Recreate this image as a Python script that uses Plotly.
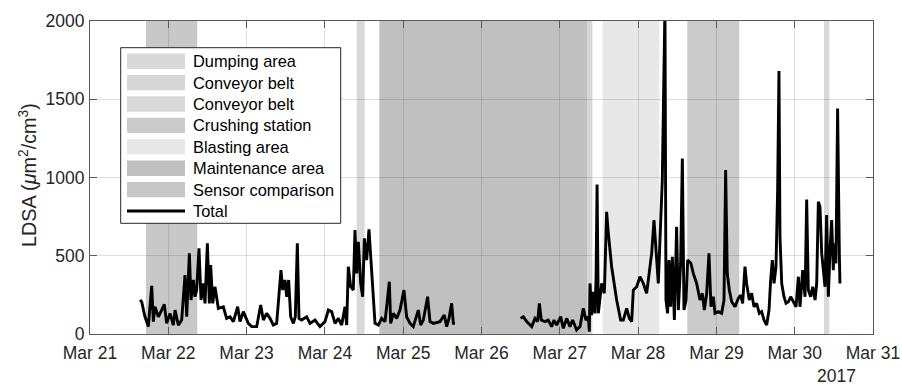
import pandas as pd
import plotly.graph_objects as go

BASE = pd.Timestamp("2017-03-21")

# time offsets (days after 2017-03-21 00:00) and LDSA values (um^2/cm^3)
days_a = [0.639, 0.660, 0.702, 0.745, 0.788, 0.809, 0.830, 0.873, 0.915, 0.949, 0.979, 1.022, 1.064, 1.086,
          1.128, 1.171, 1.213, 1.235, 1.269, 1.290, 1.320, 1.341, 1.362, 1.392, 1.418, 1.447, 1.469, 1.499,
          1.524, 1.541, 1.567, 1.596, 1.639, 1.703, 1.745, 1.788, 1.831, 1.886, 1.916, 1.958, 2.022, 2.065,
          2.129, 2.180, 2.214, 2.256, 2.299, 2.341, 2.384, 2.439, 2.461, 2.490, 2.512, 2.537, 2.563, 2.597,
          2.622, 2.648, 2.669, 2.703, 2.767, 2.810, 2.874, 2.937, 3.001, 3.044, 3.086, 3.129, 3.172, 3.214,
          3.257, 3.278, 3.299, 3.329, 3.363, 3.384, 3.406, 3.427, 3.457, 3.482, 3.504, 3.533, 3.563, 3.589,
          3.619, 3.640, 3.682, 3.725, 3.768, 3.823, 3.840, 3.874, 3.917, 3.959, 4.010, 4.044, 4.087, 4.129,
          4.193, 4.223, 4.257, 4.312, 4.342, 4.385, 4.470, 4.525, 4.555, 4.585, 4.619, 4.640, 4.662]
vals_a = [217, 206, 110, 47, 308, 79, 174, 110, 153, 189, 68, 132, 57, 153,
          57, 89, 377, 110, 515, 217, 345, 238, 281, 547, 217, 323, 196, 579,
          196, 440, 196, 302, 164, 174, 100, 110, 79, 174, 79, 143, 68, 47,
          47, 185, 89, 132, 100, 57, 68, 408, 281, 345, 238, 345, 110, 68,
          110, 579, 100, 89, 110, 68, 89, 47, 79, 153, 143, 68, 100, 57,
          174, 57, 430, 302, 281, 664, 387, 589, 323, 238, 611, 472, 668, 472,
          217, 68, 57, 100, 79, 334, 68, 132, 100, 153, 281, 110, 68, 47,
          153, 57, 89, 238, 79, 68, 79, 121, 47, 100, 196, 68, 68]

days_b = [5.500, 5.534, 5.577, 5.641, 5.683, 5.717, 5.739, 5.764, 5.811, 5.853, 5.896, 5.926, 5.960, 6.011,
          6.045, 6.088, 6.130, 6.164, 6.215, 6.258, 6.300, 6.334, 6.364, 6.377, 6.386, 6.407, 6.429, 6.450,
          6.463, 6.476, 6.492, 6.535, 6.569, 6.598, 6.620, 6.662, 6.726, 6.777, 6.811, 6.854, 6.888, 6.918,
          6.939, 6.982, 7.024, 7.067, 7.109, 7.139, 7.173, 7.203, 7.237, 7.258, 7.309, 7.343, 7.356, 7.377,
          7.394, 7.416, 7.437, 7.463, 7.492, 7.514, 7.543, 7.565, 7.586, 7.612, 7.633, 7.675, 7.705, 7.748,
          7.790, 7.820, 7.846, 7.876, 7.905, 7.931, 7.961, 7.982, 8.025, 8.067, 8.097, 8.118, 8.139, 8.165,
          8.195, 8.238, 8.280, 8.310, 8.335, 8.365, 8.386, 8.420, 8.450, 8.480, 8.514, 8.548, 8.578, 8.608,
          8.642, 8.672, 8.693, 8.714, 8.736, 8.761, 8.782, 8.799, 8.812, 8.834, 8.863, 8.889, 8.919, 8.949,
          8.983, 9.017, 9.047, 9.068, 9.102, 9.132, 9.153, 9.174, 9.204, 9.230, 9.260, 9.281, 9.302, 9.323,
          9.345, 9.366, 9.387, 9.408, 9.430, 9.451, 9.472, 9.493, 9.506, 9.527, 9.548, 9.570, 9.578]
vals_b = [100, 111, 79, 47, 100, 79, 196, 89, 79, 89, 47, 89, 57, 111,
          36, 100, 47, 89, 26, 47, 164, 89, 111, 15, 323, 121, 270, 132,
          366, 955, 132, 323, 260, 781, 643, 430, 217, 89, 89, 164, 100, 79,
          281, 302, 366, 323, 260, 366, 515, 728, 430, 323, 983, 2100, 217, 132,
          472, 174, 494, 89, 685, 153, 451, 1121, 153, 217, 472, 451, 387, 323,
          217, 260, 153, 260, 515, 174, 238, 132, 143, 132, 217, 1047, 387, 281,
          206, 174, 228, 249, 196, 430, 323, 217, 260, 174, 196, 132, 143, 89,
          57, 153, 345, 472, 323, 430, 919, 1681, 621, 323, 238, 196, 206, 238,
          206, 174, 366, 174, 408, 238, 860, 281, 238, 302, 217, 323, 845, 813,
          515, 408, 302, 760, 238, 536, 728, 408, 579, 451, 1440, 515, 323]

# shaded activity periods (day offsets) and their legend names / greys
area_names = ["Dumping area", "Conveyor belt", "Conveyor belt", "Crushing station",
              "Blasting area", "Maintenance area", "Sensor comparison"]
area_start = [3.406, 6.350, 9.374, 7.628, 6.548, 3.695, 0.715]
area_end = [3.508, 6.416, 9.442, 8.292, 7.271, 6.350, 1.370]
area_color = ["#d9d9d9", "#d6d6d6", "#d9d9d9", "#cbcbcb", "#e8e8e8", "#c0c0c0", "#c8c8c8"]

tick_days = list(range(0, 11))
tick_text = ["Mar 21", "Mar 22", "Mar 23", "Mar 24", "Mar 25", "Mar 26",
             "Mar 27", "Mar 28", "Mar 29", "Mar 30", "Mar 31"]


def to_t(d):
    return BASE + pd.to_timedelta(d, unit="D")


xs = [to_t(d) for d in days_a] + [None] + [to_t(d) for d in days_b]
ys = vals_a + [None] + vals_b

fig = go.Figure()
fig.add_trace(go.Scatter(x=xs, y=ys, mode="lines", line=dict(color="black", width=2.9),
                         connectgaps=False, showlegend=False, hoverinfo="skip"))

for s, e, c in zip(area_start, area_end, area_color):
    fig.add_shape(type="rect", xref="x", yref="paper", x0=to_t(s), x1=to_t(e), y0=0, y1=1,
                  fillcolor=c, line_width=0, layer="below")

FW, FH = 902, 385
L, R, T, B = 90, 873, 21, 334          # plot area in page pixels
PW, PH = R - L, B - T


def px(x):
    return (x - L) / PW


def py(y):
    return (B - y) / PH


FONT = "Liberation Sans, Arial, Helvetica, sans-serif"

# legend box
fig.add_shape(type="rect", xref="paper", yref="paper", x0=px(120.7), x1=px(340.7),
              y0=py(223.3), y1=py(47.7), fillcolor="white", line=dict(color="#262626", width=1),
              layer="above")
row0, pitch = 61.2, 21.4
for i, (name, c) in enumerate(zip(area_names, area_color)):
    yc = row0 + pitch * i
    fig.add_shape(type="rect", xref="paper", yref="paper", x0=px(127), x1=px(185),
                  y0=py(yc + 7.7), y1=py(yc - 7.7), fillcolor=c, line_width=0, layer="above")
    fig.add_annotation(x=px(190.5), y=py(yc), xref="paper", yref="paper", text=name,
                       showarrow=False, xanchor="left", yanchor="middle",
                       font=dict(family=FONT, size=16.4, color="black"))
yc = row0 + pitch * 7
fig.add_shape(type="line", xref="paper", yref="paper", x0=px(127), x1=px(185), y0=py(yc), y1=py(yc),
              line=dict(color="black", width=2.9), layer="above")
fig.add_annotation(x=px(190.5), y=py(yc), xref="paper", yref="paper", text="Total",
                   showarrow=False, xanchor="left", yanchor="middle",
                   font=dict(family=FONT, size=16.4, color="black"))

# y-axis title
fig.add_annotation(x=px(28), y=py(175), xref="paper", yref="paper",
                   text="LDSA (<i>μ</i>m<sup>2</sup>/cm<sup>3</sup>)", textangle=-90,
                   showarrow=False, xanchor="center", yanchor="middle",
                   font=dict(family=FONT, size=19.8, color="#262626"))
# year label
fig.add_annotation(x=px(836.7), y=py(375.5), xref="paper", yref="paper", text="2017",
                   showarrow=False, xanchor="center", yanchor="middle",
                   font=dict(family=FONT, size=17.5, color="#262626"))

axis_common = dict(showline=True, linecolor="#5a5a5a", linewidth=1, mirror="ticks",
                   ticks="inside", ticklen=7, tickcolor="#5a5a5a", showgrid=True,
                   gridcolor="rgba(38,38,38,0.15)", gridwidth=1, zeroline=False,
                   tickfont=dict(family=FONT, size=17.5, color="#262626"))

fig.update_layout(
    width=FW, height=FH,
    margin=dict(l=L, r=FW - R, t=T, b=FH - B, autoexpand=False),
    plot_bgcolor="white", paper_bgcolor="white",
    showlegend=False,
    xaxis=dict(range=[to_t(0), to_t(10)], type="date", ticklabelstandoff=3,
               ticklabeloverflow="allow",
               tickvals=[to_t(d) for d in tick_days], ticktext=tick_text, **axis_common),
    yaxis=dict(range=[0, 2000], tickvals=[0, 500, 1000, 1500, 2000], ticklabelstandoff=1,
               **axis_common),
)

fig.write_html("out.html", config={"displayModeBar": False, "staticPlot": True},
               post_script="document.body.style.margin='0px';document.body.style.overflow='hidden';")
